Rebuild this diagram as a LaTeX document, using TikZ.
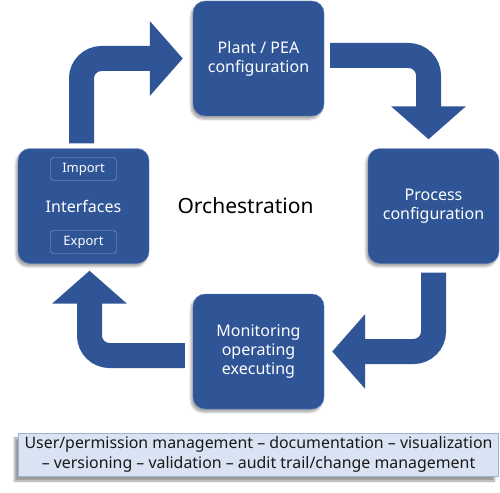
\documentclass[tikz,border=0pt]{standalone}
\usepackage{fontspec}
\setmainfont{Noto Sans}
\usetikzlibrary{arrows.meta,positioning,shadows.blur}
\definecolor{stageblue}{RGB}{47,85,151}
\definecolor{stageedge}{RGB}{96,130,192}
\definecolor{portedge}{RGB}{140,168,215}
\definecolor{notefill}{RGB}{218,227,243}
\definecolor{noteedge}{RGB}{160,178,210}
\begin{document}
\begin{tikzpicture}[x=1pt, y=-1pt, on grid, node distance=147.5pt and 175pt,
    stagebox/.style={draw=stageedge, fill=stageblue, rounded corners=12pt, minimum width=131pt, minimum height=115pt, text=white, align=center, font=\fontsize{16}{19}\selectfont, blur shadow={shadow xshift=-2pt, shadow yshift=-3pt, shadow opacity=35}},
    portbox/.style={draw=portedge, fill=stageblue, rounded corners=3pt, minimum width=66pt, minimum height=23pt, text=white, font=\fontsize{13}{15}\selectfont},
    flow/.style={draw=stageblue, line width=25pt, rounded corners=20pt, -{Triangle[width=73pt, length=33pt]}}]
    \useasboundingbox (0,0) rectangle (500,492);
    \node[stagebox] (plant) at (258.5,58.5) {Plant / PEA\\configuration};
    \node[stagebox, below left=of plant] (iface) {Interfaces};
    \node[stagebox, below right=of plant] (process) {Process\\configuration};
    \node[stagebox, below=293pt of plant] (monitor) {Monitoring\\operating\\executing};
    \node[portbox, above=37pt of iface] (import) {Import};
    \node[portbox, below=36pt of iface] (export) {Export};
    \node[right=162pt of iface, font=\fontsize{21}{25}\selectfont] (orch) {Orchestration};
    \node[below=103pt of monitor, draw=noteedge, fill=notefill, minimum width=480pt, minimum height=43pt, align=center, text=black!90, font=\fontsize{15.9}{20.5}\selectfont, blur shadow={shadow xshift=-4pt, shadow yshift=-5pt, shadow opacity=40}] (note) {User/permission management -- documentation -- visualization\\-- versioning -- validation -- audit trail/change management};

    % cycle arrows
    \draw[flow, shorten <=5pt, shorten >=10pt] ([xshift=-2pt]iface.north) |- (plant.west);
    \draw[flow, shorten <=6pt, shorten >=9pt] ([yshift=3pt]plant.east) -| ([xshift=-5pt]process.north);
    \draw[flow, shorten <=9pt, shorten >=8pt] (process.south) |- (monitor.east);
    \draw[flow, shorten <=8pt, shorten >=7pt] ([yshift=-4pt]monitor.west) -| ([xshift=6pt]iface.south);
\end{tikzpicture}
\end{document}
